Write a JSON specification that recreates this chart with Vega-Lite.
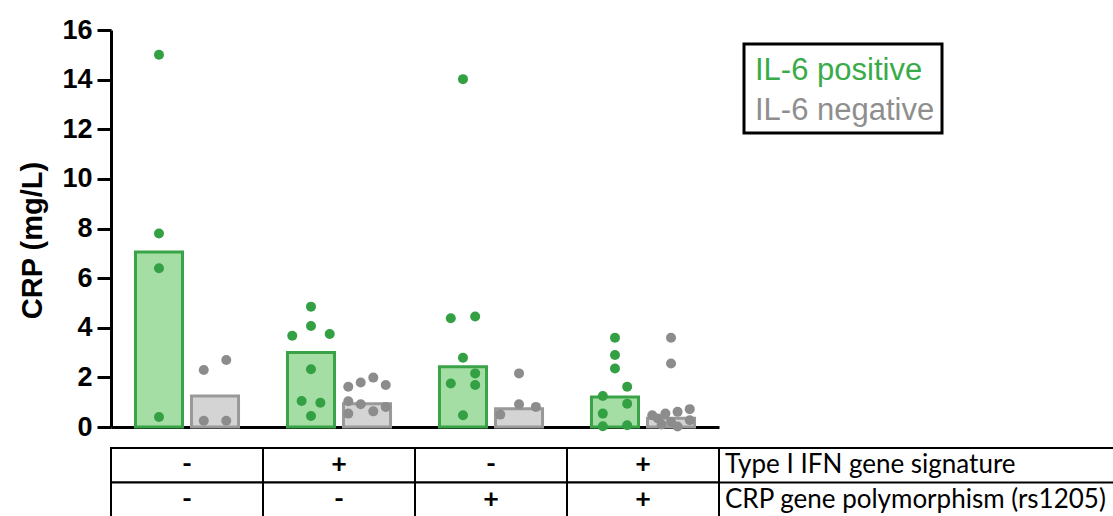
{
  "$schema": "https://vega.github.io/schema/vega-lite/v6.json",
  "padding": {"left": 18, "top": 16, "right": 0, "bottom": 0},
  "autosize": {"type": "pad"},
  "bounds": "flush",
  "spacing": 21,
  "config": {"view": {"stroke": null}, "font": "Liberation Sans"},
  "datasets": {
    "bars": [
      {"grp": "IFN- / rs1205-", "il6": "IL-6 positive", "median": 7.05},
      {"grp": "IFN- / rs1205-", "il6": "IL-6 negative", "median": 1.25},
      {"grp": "IFN+ / rs1205-", "il6": "IL-6 positive", "median": 3.0},
      {"grp": "IFN+ / rs1205-", "il6": "IL-6 negative", "median": 0.94},
      {"grp": "IFN- / rs1205+", "il6": "IL-6 positive", "median": 2.43},
      {"grp": "IFN- / rs1205+", "il6": "IL-6 negative", "median": 0.74},
      {"grp": "IFN+ / rs1205+", "il6": "IL-6 positive", "median": 1.21},
      {"grp": "IFN+ / rs1205+", "il6": "IL-6 negative", "median": 0.35}
    ],
    "points": [
      {"grp": "IFN- / rs1205-", "status": "IL-6 positive", "crp": 15.0, "jit": 0},
      {"grp": "IFN- / rs1205-", "status": "IL-6 positive", "crp": 7.8, "jit": 0},
      {"grp": "IFN- / rs1205-", "status": "IL-6 positive", "crp": 6.4, "jit": 0},
      {"grp": "IFN- / rs1205-", "status": "IL-6 positive", "crp": 0.4, "jit": 0},
      {"grp": "IFN- / rs1205-", "status": "IL-6 negative", "crp": 2.3, "jit": -1.2},
      {"grp": "IFN- / rs1205-", "status": "IL-6 negative", "crp": 2.7, "jit": 1.2},
      {"grp": "IFN- / rs1205-", "status": "IL-6 negative", "crp": 0.25, "jit": -1.2},
      {"grp": "IFN- / rs1205-", "status": "IL-6 negative", "crp": 0.25, "jit": 1.2},
      {"grp": "IFN+ / rs1205-", "status": "IL-6 positive", "crp": 4.85, "jit": 0},
      {"grp": "IFN+ / rs1205-", "status": "IL-6 positive", "crp": 4.07, "jit": 0},
      {"grp": "IFN+ / rs1205-", "status": "IL-6 positive", "crp": 3.75, "jit": 2},
      {"grp": "IFN+ / rs1205-", "status": "IL-6 positive", "crp": 3.68, "jit": -2},
      {"grp": "IFN+ / rs1205-", "status": "IL-6 positive", "crp": 2.33, "jit": 0},
      {"grp": "IFN+ / rs1205-", "status": "IL-6 positive", "crp": 1.05, "jit": -1},
      {"grp": "IFN+ / rs1205-", "status": "IL-6 positive", "crp": 0.98, "jit": 1},
      {"grp": "IFN+ / rs1205-", "status": "IL-6 positive", "crp": 0.44, "jit": 0},
      {"grp": "IFN+ / rs1205-", "status": "IL-6 negative", "crp": 1.62, "jit": -2},
      {"grp": "IFN+ / rs1205-", "status": "IL-6 negative", "crp": 1.79, "jit": -0.67},
      {"grp": "IFN+ / rs1205-", "status": "IL-6 negative", "crp": 1.99, "jit": 0.67},
      {"grp": "IFN+ / rs1205-", "status": "IL-6 negative", "crp": 1.69, "jit": 2},
      {"grp": "IFN+ / rs1205-", "status": "IL-6 negative", "crp": 1.04, "jit": -2},
      {"grp": "IFN+ / rs1205-", "status": "IL-6 negative", "crp": 0.92, "jit": -0.67},
      {"grp": "IFN+ / rs1205-", "status": "IL-6 negative", "crp": 0.63, "jit": 0.67},
      {"grp": "IFN+ / rs1205-", "status": "IL-6 negative", "crp": 0.81, "jit": 2},
      {"grp": "IFN+ / rs1205-", "status": "IL-6 negative", "crp": 0.54, "jit": -2},
      {"grp": "IFN- / rs1205+", "status": "IL-6 positive", "crp": 14.02, "jit": 0},
      {"grp": "IFN- / rs1205+", "status": "IL-6 positive", "crp": 4.38, "jit": -1.3},
      {"grp": "IFN- / rs1205+", "status": "IL-6 positive", "crp": 4.45, "jit": 1.3},
      {"grp": "IFN- / rs1205+", "status": "IL-6 positive", "crp": 2.79, "jit": 0},
      {"grp": "IFN- / rs1205+", "status": "IL-6 positive", "crp": 2.16, "jit": 1.3},
      {"grp": "IFN- / rs1205+", "status": "IL-6 positive", "crp": 1.75, "jit": -1.3},
      {"grp": "IFN- / rs1205+", "status": "IL-6 positive", "crp": 1.69, "jit": 1.3},
      {"grp": "IFN- / rs1205+", "status": "IL-6 positive", "crp": 0.47, "jit": 0},
      {"grp": "IFN- / rs1205+", "status": "IL-6 negative", "crp": 2.16, "jit": 0},
      {"grp": "IFN- / rs1205+", "status": "IL-6 negative", "crp": 0.92, "jit": 0},
      {"grp": "IFN- / rs1205+", "status": "IL-6 negative", "crp": 0.5, "jit": -2},
      {"grp": "IFN- / rs1205+", "status": "IL-6 negative", "crp": 0.81, "jit": 1.8},
      {"grp": "IFN+ / rs1205+", "status": "IL-6 positive", "crp": 3.6, "jit": 0},
      {"grp": "IFN+ / rs1205+", "status": "IL-6 positive", "crp": 2.9, "jit": 0},
      {"grp": "IFN+ / rs1205+", "status": "IL-6 positive", "crp": 2.36, "jit": 0},
      {"grp": "IFN+ / rs1205+", "status": "IL-6 positive", "crp": 1.62, "jit": 1.3},
      {"grp": "IFN+ / rs1205+", "status": "IL-6 positive", "crp": 1.25, "jit": -1.3},
      {"grp": "IFN+ / rs1205+", "status": "IL-6 positive", "crp": 0.94, "jit": 1.3},
      {"grp": "IFN+ / rs1205+", "status": "IL-6 positive", "crp": 0.54, "jit": -1.3},
      {"grp": "IFN+ / rs1205+", "status": "IL-6 positive", "crp": 0.03, "jit": -1.3},
      {"grp": "IFN+ / rs1205+", "status": "IL-6 positive", "crp": 0.07, "jit": 1.3},
      {"grp": "IFN+ / rs1205+", "status": "IL-6 negative", "crp": 3.6, "jit": 0},
      {"grp": "IFN+ / rs1205+", "status": "IL-6 negative", "crp": 2.56, "jit": 0},
      {"grp": "IFN+ / rs1205+", "status": "IL-6 negative", "crp": 0.47, "jit": -2},
      {"grp": "IFN+ / rs1205+", "status": "IL-6 negative", "crp": 0.34, "jit": -1.4},
      {"grp": "IFN+ / rs1205+", "status": "IL-6 negative", "crp": 0.54, "jit": -0.6},
      {"grp": "IFN+ / rs1205+", "status": "IL-6 negative", "crp": 0.61, "jit": 0.7},
      {"grp": "IFN+ / rs1205+", "status": "IL-6 negative", "crp": 0.72, "jit": 2},
      {"grp": "IFN+ / rs1205+", "status": "IL-6 negative", "crp": 0.2, "jit": 0},
      {"grp": "IFN+ / rs1205+", "status": "IL-6 negative", "crp": 0.27, "jit": 2},
      {"grp": "IFN+ / rs1205+", "status": "IL-6 negative", "crp": 0.02, "jit": 0.7},
      {"grp": "IFN+ / rs1205+", "status": "IL-6 negative", "crp": 0.1, "jit": -1}
    ],
    "table": [
      {"grp": "IFN- / rs1205-", "row": "Type I IFN gene signature", "sign": "-"},
      {"grp": "IFN+ / rs1205-", "row": "Type I IFN gene signature", "sign": "+"},
      {"grp": "IFN- / rs1205+", "row": "Type I IFN gene signature", "sign": "-"},
      {"grp": "IFN+ / rs1205+", "row": "Type I IFN gene signature", "sign": "+"},
      {"grp": "IFN- / rs1205-", "row": "CRP gene polymorphism (rs1205)", "sign": "-"},
      {"grp": "IFN+ / rs1205-", "row": "CRP gene polymorphism (rs1205)", "sign": "-"},
      {"grp": "IFN- / rs1205+", "row": "CRP gene polymorphism (rs1205)", "sign": "+"},
      {"grp": "IFN+ / rs1205+", "row": "CRP gene polymorphism (rs1205)", "sign": "+"}
    ],
    "labels": [
      {"row": "Type I IFN gene signature"},
      {"row": "CRP gene polymorphism (rs1205)"}
    ]
  },
  "vconcat": [
    {
      "width": 608,
      "height": 397,
      "layer": [
        {
          "data": {"name": "bars"},
          "mark": {"type": "bar", "strokeWidth": 3},
          "encoding": {
            "x": {
              "field": "grp", "type": "nominal", "sort": null,
              "scale": {"paddingInner": 0.322, "paddingOuter": 0.161},
              "axis": {"title": null, "labels": false, "ticks": false, "domainColor": "black", "domainWidth": 3, "grid": false}
            },
            "xOffset": {
              "field": "il6", "type": "nominal", "sort": null,
              "scale": {"domain": ["IL-6 positive", "IL-6 negative"], "paddingInner": 0.16, "paddingOuter": 0}
            },
            "y": {
              "field": "median", "type": "quantitative",
              "scale": {"domain": [0, 16], "nice": false},
              "axis": {
                "title": "CRP (mg/L)", "titleFontSize": 29, "titleFontWeight": "bold", "titleColor": "black", "titlePadding": 14, "titleY": 210,
                "values": [0, 2, 4, 6, 8, 10, 12, 14, 16],
                "labelFontSize": 27, "labelFontWeight": "bold", "labelColor": "black", "labelPadding": 5,
                "tickSize": 14, "tickWidth": 3, "tickColor": "black",
                "domainColor": "black", "domainWidth": 3, "grid": false
              }
            },
            "fill": {
              "field": "il6", "type": "nominal",
              "scale": {"domain": ["IL-6 positive", "IL-6 negative"], "range": ["#a4dea4", "#d4d4d4"]},
              "legend": {
                "orient": "none", "legendX": 633, "legendY": 14, "title": null,
                "symbolOpacity": 0, "symbolSize": 0, "symbolStrokeWidth": 0,
                "labelFontSize": 31, "labelFont": "Liberation Sans", "labelOffset": -27,
                "padding": 7, "rowPadding": 5, "strokeColor": "black", "labelLimit": 400,
                "labelColor": {"expr": "datum.value === 'IL-6 positive' ? '#3aab49' : '#8e8e8e'"},
                "encode": {
                  "symbols": {"update": {"opacity": {"value": 0}}},
                  "labels": {"update": {"dy": {"value": 4}}},
                  "legend": {"update": {"stroke": {"value": "black"}, "strokeWidth": {"value": 3}}}
                }
              }
            },
            "stroke": {
              "field": "il6", "type": "nominal",
              "scale": {"domain": ["IL-6 positive", "IL-6 negative"], "range": ["#3aa347", "#999999"]},
              "legend": null
            }
          }
        },
        {
          "data": {"name": "points"},
          "transform": [{"filter": "datum.status === 'IL-6 positive'"}],
          "mark": {"type": "circle", "size": 100, "opacity": 1},
          "encoding": {
            "x": {"field": "grp", "type": "nominal", "sort": null},
            "xOffset": {"field": "jit", "type": "quantitative", "scale": {"domain": [-2.51, 8.49], "nice": false, "zero": false}},
            "y": {"field": "crp", "type": "quantitative"},
            "color": {
              "field": "status", "type": "nominal",
              "scale": {"domain": ["IL-6 positive", "IL-6 negative"], "range": ["#33a043", "#8c8c8c"]},
              "legend": null
            }
          }
        },
        {
          "data": {"name": "points"},
          "transform": [{"filter": "datum.status === 'IL-6 negative'"}],
          "mark": {"type": "circle", "size": 100, "opacity": 1},
          "encoding": {
            "x": {"field": "grp", "type": "nominal", "sort": null},
            "xOffset": {"field": "jit", "type": "quantitative", "scale": {"domain": [-8.49, 2.51], "nice": false, "zero": false}},
            "y": {"field": "crp", "type": "quantitative"},
            "color": {"field": "status", "type": "nominal", "legend": null}
          }
        }
      ],
      "resolve": {"scale": {"xOffset": "independent"}}
    },
    {
      "bounds": "flush",
      "spacing": 0,
      "hconcat": [
        {
          "width": 608,
          "height": 69,
          "data": {"name": "table"},
          "layer": [
            {
              "mark": {"type": "rect", "fill": "white", "stroke": "black", "strokeWidth": 2},
              "encoding": {
                "x": {"field": "grp", "type": "nominal", "sort": null, "axis": null},
                "y": {"field": "row", "type": "nominal", "sort": null, "axis": null}
              }
            },
            {
              "mark": {"type": "text", "fontSize": 27, "fontWeight": "bold", "font": "Lato", "color": "black"},
              "encoding": {
                "x": {"field": "grp", "type": "nominal", "sort": null, "axis": null},
                "y": {"field": "row", "type": "nominal", "sort": null, "axis": null},
                "text": {"field": "sign"}
              }
            }
          ]
        },
        {
          "width": 395,
          "height": 69,
          "data": {"name": "labels"},
          "layer": [
            {
              "mark": {"type": "rule", "stroke": "black", "strokeWidth": 2},
              "encoding": {
                "y": {"field": "row", "type": "nominal", "sort": null, "axis": null, "bandPosition": 0}
              }
            },
            {
              "mark": {"type": "text", "align": "left", "dx": 6, "fontSize": 26, "font": "Lato", "color": "black"},
              "encoding": {
                "x": {"datum": 0, "type": "quantitative", "scale": {"domain": [0, 1]}, "axis": null},
                "y": {"field": "row", "type": "nominal", "sort": null, "axis": null},
                "text": {"field": "row"}
              }
            }
          ]
        }
      ]
    }
  ]
}
